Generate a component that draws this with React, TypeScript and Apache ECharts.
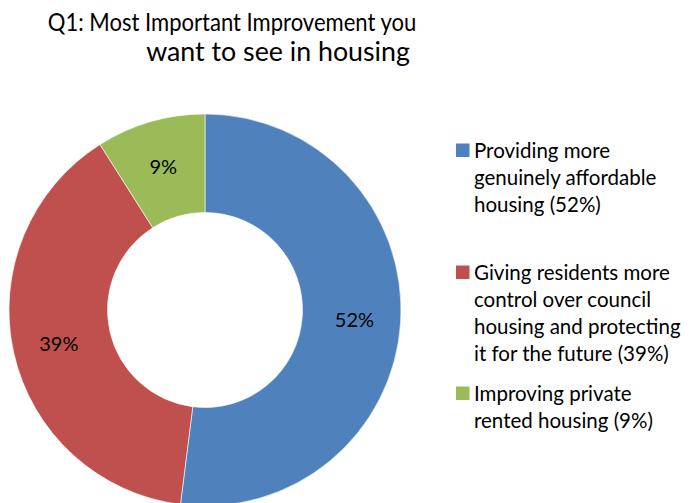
import React, { useEffect, useRef } from "react";
import * as echarts from "echarts";

const titleLines = ["Q1: Most Important Improvement you", "want to see in housing"];
const categories = [
  "Providing more genuinely affordable housing",
  "Giving residents more control over council housing and protecting it for the future",
  "Improving private rented housing",
];
const values = [52, 39, 9];
const colors = ["#4F81BD", "#C0504D", "#9BBB59"];
const legendLines = [
  ["Providing more", "genuinely affordable", "housing (52%)"],
  ["Giving residents more", "control over council", "housing and protecting", "it for the future (39%)"],
  ["Improving private", "rented housing (9%)"],
];
const legendBaselines = [157, 279, 400];

const FONT = "Lato, 'Open Sans', sans-serif";

export default function App() {
  const ref = useRef<HTMLDivElement>(null);
  useEffect(() => {
    if (!ref.current) return;
    const chart = echarts.init(ref.current, undefined, { renderer: "svg" });
    const fs = 20.5;
    const graphics: any[] = [];
    const titleCfg = [
      { x: 232, y: 9.5, scaleX: 0.9, size: 24.5 },
      { x: 278, y: 38, scaleX: 1.03, size: 26 },
    ];
    titleLines.forEach((t, i) => {
      const c = titleCfg[i];
      graphics.push({
        type: "text",
        x: c.x,
        y: c.y,
        scaleX: c.scaleX,
        style: {
          text: t,
          font: `${c.size}px ${FONT}`,
          fill: "#000",
          lineHeight: c.size,
          verticalAlign: "top",
          align: "center",
        },
      });
    });
    legendLines.forEach((lines, i) => {
      const b = legendBaselines[i];
      graphics.push({
        type: "rect",
        shape: { x: 456, y: b - 13.5, width: 13.5, height: 13.5 },
        style: { fill: colors[i] },
      });
      graphics.push({
        type: "text",
        x: 474,
        y: b - 20.5,
        style: {
          text: lines.join("\n"),
          font: `${fs}px ${FONT}`,
          fill: "#000",
          lineHeight: 27,
          verticalAlign: "top",
          align: "left",
        },
      });
    });
    chart.setOption({
      animation: false,
      backgroundColor: "#fff",
      series: [
        {
          type: "pie",
          center: [205, 310],
          radius: [97.5, 196],
          startAngle: 90,
          clockwise: true,
          silent: true,
          itemStyle: { borderColor: "#fff", borderWidth: 0.6 },
          label: {
            show: true,
            position: "inside",
            formatter: (p: any) => `${p.value}%`,
            fontFamily: FONT,
            fontSize: 20,
            color: "#000",
          },
          labelLine: { show: false },
          data: categories.map((c, i) => ({ name: c, value: values[i], itemStyle: { color: colors[i] } })),
        },
      ],
      graphic: graphics,
    });
    return () => chart.dispose();
  }, []);
  return <div ref={ref} style={{ width: 689, height: 503, position: "absolute", left: 0, top: 0 }} />;
}
